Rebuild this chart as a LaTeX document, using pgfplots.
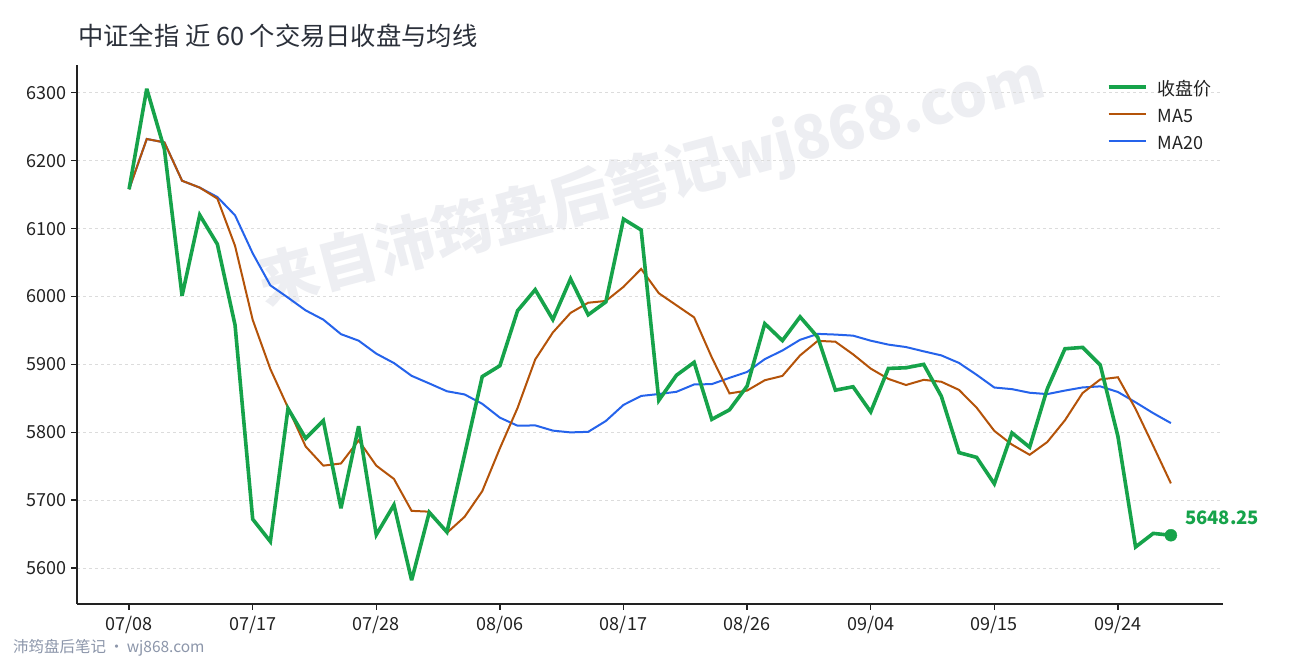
\documentclass[border=0pt]{standalone}
\usepackage{pgfplots}
\pgfplotsset{compat=1.18}
\usepackage{pgfplotstable}
\usepackage{fontspec}
\setmainfont{Noto Sans CJK SC}

\definecolor{cclose}{HTML}{16A34A}
\definecolor{cma5}{HTML}{B45309}
\definecolor{cma20}{HTML}{2563EB}
\definecolor{titlec}{HTML}{2B303A}
\definecolor{footc}{HTML}{8C96AA}
\definecolor{wmark}{HTML}{EDEEF2}
\definecolor{spine}{HTML}{222222}
\definecolor{gridc}{HTML}{DCDCDC}

% idx: trading day 0..59, close, MA5, MA20
\pgfplotstableread{
idx close ma5 ma20
0 6158 6158.0 6158.0
1 6306 6232.0 6232.0
2 6217 6227.0 6227.0
3 6001 6170.5 6170.5
4 6120 6160.4 6160.4
5 6077 6144.2 6146.5
6 5958 6074.6 6119.6
7 5672 5965.6 6063.6
8 5639 5893.2 6016.4
9 5835 5836.2 5998.3
10 5791 5779.0 5979.5
11 5817 5750.8 5965.9
12 5688 5754.0 5944.5
13 5809 5788.0 5934.9
14 5649 5750.8 5915.8
15 5693 5731.2 5901.9
16 5582 5684.2 5883.1
17 5682 5683.0 5871.9
18 5653 5651.8 5860.4
19 5767 5675.4 5855.7
20 5882 5713.2 5841.9
21 5898 5776.4 5821.5
22 5979 5835.8 5809.6
23 6010 5907.2 5810.1
24 5966 5947.0 5802.4
25 6026 5975.8 5799.8
26 5973 5990.8 5800.6
27 5992 5993.4 5816.6
28 6114 6014.2 5840.3
29 6098 6040.6 5853.5
30 5847 6004.8 5856.3
31 5884 5987.0 5859.6
32 5903 5969.2 5870.4
33 5819 5910.2 5870.9
34 5833 5857.2 5880.1
35 5868 5861.4 5888.8
36 5960 5876.6 5907.7
37 5935 5883.0 5920.4
38 5970 5913.2 5936.2
39 5940 5934.6 5944.9
40 5862 5933.4 5943.9
41 5867 5914.8 5942.3
42 5830 5893.8 5934.9
43 5894 5878.6 5929.1
44 5895 5869.6 5925.5
45 5900 5877.2 5919.2
46 5853 5874.4 5913.2
47 5770 5862.4 5902.1
48 5763 5836.2 5884.6
49 5724 5802.0 5865.9
50 5799 5781.8 5863.5
51 5778 5766.8 5858.2
52 5864 5785.6 5856.2
53 5923 5817.6 5861.4
54 5925 5857.8 5866.0
55 5899 5877.8 5867.6
56 5794 5881.0 5859.3
57 5631 5834.4 5844.1
58 5651 5780.0 5828.1
59 5648.25 5724.7 5813.5
}\closedata

\begin{document}
\begin{tikzpicture}
\path[use as bounding box, fill=white] (0pt,0pt) rectangle (1290pt,660pt);

% watermark
\node[rotate=15, text=wmark, font=\fontsize{60}{60}\selectfont\bfseries, inner sep=0pt]
  at (652pt,478pt) {来自沛筠盘后笔记wj868.com};

\begin{axis}[
  at={(77pt,56pt)}, anchor=south west,
  scale only axis, width=1146pt, height=539pt,
  xmin=-2.95, xmax=61.95, ymin=5547, ymax=6341,
  clip mode=individual,
  axis x line*=bottom, axis y line*=left,
  axis line style={-, draw=spine, line width=1.5pt},
  xtick={0,7,14,21,28,35,42,49,56},
  xticklabels={07/08,07/17,07/28,08/06,08/17,08/26,09/04,09/15,09/24},
  ytick={5600,5700,5800,5900,6000,6100,6200,6300},
  tick align=outside, major tick length=6pt,
  tick style={draw=spine, line width=1.3pt},
  ticklabel style={font=\fontsize{18}{18}\selectfont, text=spine},
  /pgf/number format/assume math mode=true,
  y tick label style={/pgf/number format/1000 sep={}, xshift=-1pt},
  x tick label style={yshift=-3pt},
  ymajorgrids, grid style={draw=gridc, dashed, line width=0.8pt},
  legend style={at={(0.8985,0.967)}, anchor=north west, draw=none, fill=none,
    font=\fontsize{18}{18}\selectfont, text=spine,
    row sep=9.8pt, column sep=10pt, inner sep=0pt,
    nodes={inner sep=0pt, text depth=4pt, text height=13pt}},
  legend cell align=left,
  legend image code/.code={\draw[#1] (0pt,4.5pt) -- (37pt,4.5pt);},
]
\addplot[cma20, line width=2pt, forget plot] table[x=idx, y=ma20] {\closedata};
\addplot[cma5, line width=2pt, forget plot] table[x=idx, y=ma5] {\closedata};
\addplot[cclose, line width=3.6pt, line join=miter, miter limit=4, forget plot] table[x=idx, y=close] {\closedata};
\addplot[cclose, only marks, mark=*, mark size=6pt, forget plot] coordinates {(59,5648.25)};
\node[anchor=south west, text=cclose, font=\fontsize{18.5}{18.5}\selectfont\bfseries, inner sep=0pt]
  at (axis cs:59,5648.25) [xshift=14pt, yshift=10pt] {5648.25};
\addlegendimage{cclose, line width=3.6pt}
\addlegendentry{收盘价}
\addlegendimage{cma5, line width=2pt}
\addlegendentry{MA5}
\addlegendimage{cma20, line width=2pt}
\addlegendentry{MA20}
\end{axis}

\node[anchor=west, text=titlec, font=\fontsize{25.3}{25.3}\selectfont, inner sep=0pt]
  at (78pt,624pt) {中证全指 近 60 个交易日收盘与均线};
\node[anchor=west, text=footc, font=\fontsize{15.5}{15.5}\selectfont, inner sep=0pt]
  at (13pt,12pt) {沛筠盘后笔记\,·\,wj868.com};
\end{tikzpicture}
\end{document}
